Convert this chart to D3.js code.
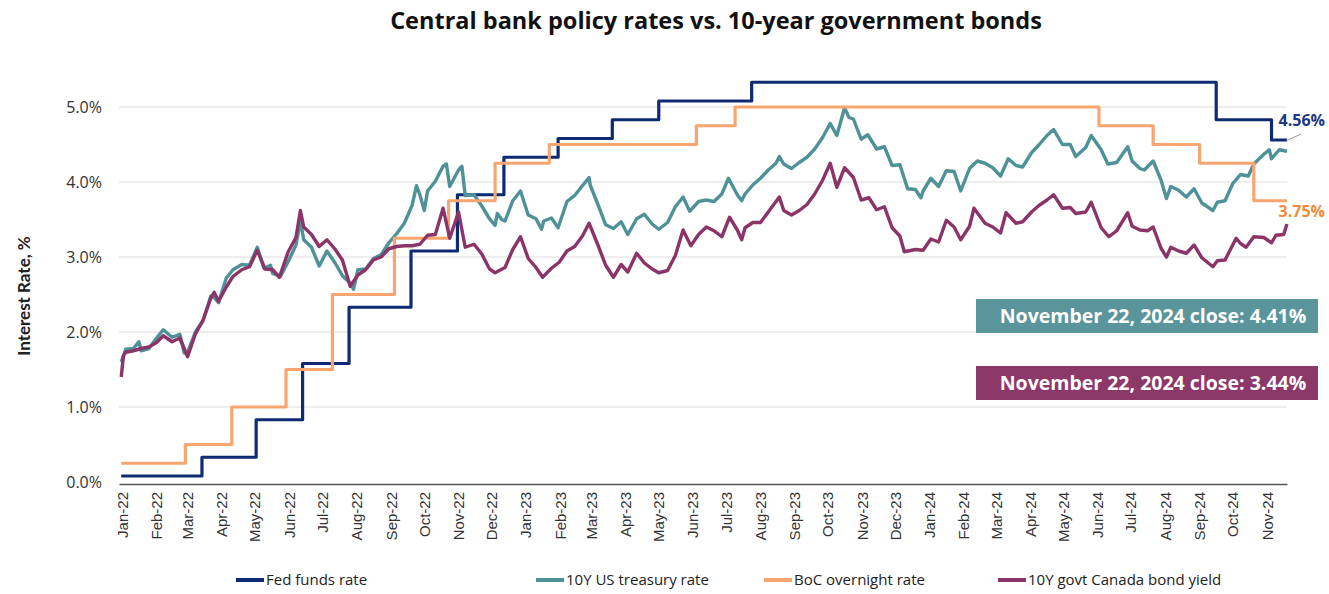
<!DOCTYPE html>
<html>
<head>
<meta charset="utf-8">
<script src="https://cdn.jsdelivr.net/npm/d3@7"></script>
<style>
  html, body { margin: 0; padding: 0; background: #fff; }
  svg { display: block; }
</style>
</head>
<body>
<svg id="chart" width="1329" height="594"></svg>
<script>
// Policy rates: [effective date, rate] at each change, last entry closes the line
const fedFunds = [
  ["2022-01-03", 0.08], ["2022-03-17", 0.33], ["2022-05-05", 0.83], ["2022-06-16", 1.58],
  ["2022-07-28", 2.33], ["2022-09-22", 3.08], ["2022-11-03", 3.83], ["2022-12-15", 4.33],
  ["2023-02-02", 4.58], ["2023-03-23", 4.83], ["2023-05-04", 5.08], ["2023-07-27", 5.33],
  ["2024-09-19", 4.83], ["2024-11-08", 4.56], ["2024-11-22", 4.56]
];
const bocOvernight = [
  ["2022-01-03", 0.25], ["2022-03-02", 0.50], ["2022-04-13", 1.00], ["2022-06-01", 1.50],
  ["2022-07-13", 2.50], ["2022-09-07", 3.25], ["2022-10-26", 3.75], ["2022-12-07", 4.25],
  ["2023-01-25", 4.50], ["2023-06-07", 4.75], ["2023-07-12", 5.00], ["2024-06-05", 4.75],
  ["2024-07-24", 4.50], ["2024-09-04", 4.25], ["2024-10-23", 3.75], ["2024-11-22", 3.75]
];

// 10-year yields, %
const us10y = [
  ["2022-01-03",1.60],["2022-01-07",1.77],["2022-01-14",1.78],["2022-01-19",1.87],["2022-01-21",1.75],
  ["2022-01-28",1.78],["2022-02-04",1.92],["2022-02-10",2.03],["2022-02-14",1.98],["2022-02-18",1.93],
  ["2022-02-25",1.97],["2022-03-01",1.72],["2022-03-04",1.73],["2022-03-11",2.00],["2022-03-18",2.15],
  ["2022-03-25",2.48],["2022-03-28",2.46],["2022-04-01",2.39],["2022-04-08",2.72],["2022-04-14",2.83],
  ["2022-04-22",2.90],["2022-04-29",2.89],["2022-05-06",3.13],["2022-05-12",2.85],["2022-05-18",2.89],
  ["2022-05-20",2.78],["2022-05-27",2.74],["2022-06-03",2.94],["2022-06-10",3.16],["2022-06-14",3.48],
  ["2022-06-17",3.23],["2022-06-24",3.13],["2022-07-01",2.88],["2022-07-08",3.08],["2022-07-15",2.93],
  ["2022-07-22",2.75],["2022-07-29",2.65],["2022-08-01",2.57],["2022-08-05",2.83],["2022-08-12",2.84],
  ["2022-08-19",2.98],["2022-08-26",3.03],["2022-09-02",3.19],["2022-09-09",3.31],["2022-09-16",3.45],
  ["2022-09-23",3.69],["2022-09-27",3.95],["2022-09-30",3.83],["2022-10-04",3.62],["2022-10-07",3.88],
  ["2022-10-14",4.01],["2022-10-21",4.21],["2022-10-24",4.24],["2022-10-27",3.94],["2022-11-04",4.16],
  ["2022-11-07",4.21],["2022-11-10",3.82],["2022-11-18",3.83],["2022-11-25",3.68],["2022-12-02",3.51],
  ["2022-12-07",3.42],["2022-12-09",3.58],["2022-12-13",3.50],["2022-12-16",3.48],["2022-12-23",3.75],
  ["2022-12-30",3.88],["2023-01-06",3.56],["2023-01-13",3.51],["2023-01-18",3.37],["2023-01-20",3.48],
  ["2023-01-27",3.52],["2023-02-02",3.39],["2023-02-10",3.74],["2023-02-17",3.82],["2023-02-24",3.95],
  ["2023-03-02",4.06],["2023-03-03",3.96],["2023-03-10",3.70],["2023-03-17",3.43],["2023-03-24",3.38],
  ["2023-03-31",3.47],["2023-04-06",3.30],["2023-04-14",3.51],["2023-04-21",3.57],["2023-04-28",3.44],
  ["2023-05-04",3.37],["2023-05-12",3.46],["2023-05-19",3.67],["2023-05-26",3.80],["2023-06-01",3.61],
  ["2023-06-09",3.74],["2023-06-16",3.76],["2023-06-23",3.74],["2023-06-30",3.84],["2023-07-06",4.05],
  ["2023-07-14",3.83],["2023-07-18",3.75],["2023-07-21",3.84],["2023-07-28",3.96],["2023-08-04",4.05],
  ["2023-08-11",4.16],["2023-08-18",4.25],["2023-08-21",4.34],["2023-08-25",4.24],["2023-09-01",4.18],
  ["2023-09-08",4.26],["2023-09-15",4.33],["2023-09-22",4.44],["2023-09-29",4.59],["2023-10-06",4.78],
  ["2023-10-12",4.62],["2023-10-19",4.99],["2023-10-23",4.86],["2023-10-27",4.84],["2023-11-03",4.57],
  ["2023-11-09",4.63],["2023-11-17",4.44],["2023-11-24",4.47],["2023-12-01",4.22],["2023-12-08",4.23],
  ["2023-12-15",3.91],["2023-12-22",3.90],["2023-12-27",3.79],["2023-12-29",3.88],["2024-01-05",4.05],
  ["2024-01-12",3.94],["2024-01-19",4.15],["2024-01-26",4.14],["2024-02-01",3.88],["2024-02-09",4.18],
  ["2024-02-16",4.28],["2024-02-23",4.25],["2024-03-01",4.19],["2024-03-08",4.08],["2024-03-15",4.31],
  ["2024-03-22",4.22],["2024-03-28",4.20],["2024-04-05",4.39],["2024-04-12",4.50],["2024-04-19",4.62],
  ["2024-04-25",4.70],["2024-05-03",4.50],["2024-05-10",4.50],["2024-05-15",4.34],["2024-05-24",4.46],
  ["2024-05-29",4.62],["2024-06-07",4.43],["2024-06-13",4.24],["2024-06-21",4.26],["2024-07-01",4.47],
  ["2024-07-05",4.28],["2024-07-12",4.18],["2024-07-16",4.16],["2024-07-24",4.28],["2024-07-31",4.03],
  ["2024-08-05",3.78],["2024-08-09",3.94],["2024-08-16",3.89],["2024-08-23",3.80],["2024-08-30",3.91],
  ["2024-09-06",3.72],["2024-09-16",3.62],["2024-09-20",3.73],["2024-09-27",3.75],["2024-10-04",3.98],
  ["2024-10-11",4.10],["2024-10-18",4.08],["2024-10-23",4.24],["2024-11-01",4.37],["2024-11-06",4.43],
  ["2024-11-08",4.31],["2024-11-15",4.43],["2024-11-22",4.41]
];
const ca10y = [
  ["2022-01-03",1.40],["2022-01-05",1.68],["2022-01-07",1.73],["2022-01-14",1.75],["2022-01-21",1.78],
  ["2022-01-28",1.80],["2022-02-04",1.86],["2022-02-10",1.95],["2022-02-18",1.87],["2022-02-25",1.92],
  ["2022-03-04",1.67],["2022-03-11",1.97],["2022-03-18",2.16],["2022-03-25",2.45],["2022-03-28",2.53],
  ["2022-04-01",2.41],["2022-04-08",2.60],["2022-04-14",2.74],["2022-04-22",2.83],["2022-04-29",2.87],
  ["2022-05-06",3.09],["2022-05-13",2.84],["2022-05-20",2.83],["2022-05-26",2.73],["2022-06-03",3.07],
  ["2022-06-10",3.26],["2022-06-14",3.62],["2022-06-17",3.40],["2022-06-24",3.30],["2022-07-01",3.14],
  ["2022-07-08",3.23],["2022-07-15",3.11],["2022-07-22",2.96],["2022-07-29",2.61],["2022-08-05",2.76],
  ["2022-08-12",2.83],["2022-08-19",2.96],["2022-08-26",3.00],["2022-09-02",3.11],["2022-09-09",3.14],
  ["2022-09-16",3.15],["2022-09-23",3.15],["2022-09-30",3.17],["2022-10-07",3.29],["2022-10-14",3.30],
  ["2022-10-21",3.65],["2022-10-27",3.25],["2022-11-04",3.60],["2022-11-10",3.13],["2022-11-18",3.17],
  ["2022-11-25",3.04],["2022-12-02",2.84],["2022-12-07",2.79],["2022-12-16",2.86],["2022-12-23",3.10],
  ["2022-12-30",3.27],["2023-01-06",2.98],["2023-01-13",2.86],["2023-01-19",2.73],["2023-01-27",2.85],
  ["2023-02-03",2.93],["2023-02-10",3.08],["2023-02-17",3.14],["2023-02-24",3.28],["2023-03-02",3.45],
  ["2023-03-10",3.16],["2023-03-17",2.89],["2023-03-24",2.73],["2023-03-31",2.90],["2023-04-06",2.80],
  ["2023-04-14",3.05],["2023-04-21",2.92],["2023-04-28",2.84],["2023-05-04",2.79],["2023-05-12",2.82],
  ["2023-05-19",3.02],["2023-05-26",3.36],["2023-06-02",3.15],["2023-06-09",3.30],["2023-06-16",3.40],
  ["2023-06-23",3.35],["2023-06-30",3.27],["2023-07-07",3.53],["2023-07-14",3.36],["2023-07-18",3.23],
  ["2023-07-21",3.39],["2023-07-28",3.46],["2023-08-04",3.46],["2023-08-11",3.60],["2023-08-21",3.80],
  ["2023-08-25",3.62],["2023-09-01",3.56],["2023-09-08",3.62],["2023-09-15",3.70],["2023-09-22",3.84],
  ["2023-09-29",4.02],["2023-10-06",4.25],["2023-10-12",3.93],["2023-10-19",4.19],["2023-10-27",4.06],
  ["2023-11-03",3.76],["2023-11-10",3.79],["2023-11-17",3.63],["2023-11-24",3.67],["2023-12-01",3.39],
  ["2023-12-08",3.28],["2023-12-12",3.07],["2023-12-22",3.10],["2023-12-29",3.09],["2024-01-05",3.24],
  ["2024-01-12",3.20],["2024-01-19",3.49],["2024-01-26",3.40],["2024-02-01",3.23],["2024-02-09",3.41],
  ["2024-02-13",3.65],["2024-02-23",3.45],["2024-03-01",3.40],["2024-03-08",3.32],["2024-03-13",3.59],
  ["2024-03-22",3.45],["2024-03-28",3.47],["2024-04-05",3.60],["2024-04-12",3.69],["2024-04-19",3.76],
  ["2024-04-25",3.83],["2024-05-03",3.65],["2024-05-10",3.66],["2024-05-15",3.58],["2024-05-24",3.60],
  ["2024-05-29",3.73],["2024-06-07",3.39],["2024-06-14",3.27],["2024-06-21",3.35],["2024-07-01",3.59],
  ["2024-07-05",3.41],["2024-07-12",3.36],["2024-07-19",3.35],["2024-07-24",3.40],["2024-07-31",3.12],
  ["2024-08-05",3.00],["2024-08-09",3.13],["2024-08-16",3.08],["2024-08-23",3.05],["2024-08-30",3.16],
  ["2024-09-06",2.99],["2024-09-16",2.87],["2024-09-20",2.95],["2024-09-27",2.96],["2024-10-07",3.25],
  ["2024-10-11",3.18],["2024-10-16",3.13],["2024-10-23",3.27],["2024-11-01",3.26],["2024-11-08",3.19],
  ["2024-11-12",3.29],["2024-11-19",3.30],["2024-11-22",3.44]
];

const yTicks = [0, 1, 2, 3, 4, 5];
const seriesNames = ["Fed funds rate", "10Y US treasury rate", "BoC overnight rate", "10Y govt Canada bond yield"];
const closeLabels = ["November 22, 2024 close: 4.41%", "November 22, 2024 close: 3.44%"];
const endLabels = ["4.56%", "3.75%"];

const colors = {
  fed: "#0e2a72",
  us: "#4f9198",
  boc: "#f8a56f",
  ca: "#8b3467"
};

const parse = d3.timeParse("%Y-%m-%d");
const toPts = arr => arr.map(([d, v]) => ({ date: parse(d), value: v }));

const svg = d3.select("#chart");
const plotLeft = 119, plotRight = 1287, plotTop = 107, plotBottom = 482;

const x = d3.scaleTime()
  .domain([parse("2022-01-01"), parse("2024-11-22")])
  .range([plotLeft, plotRight]);
const y = d3.scaleLinear().domain([0, 5]).range([plotBottom, plotTop]);

const sans = "'Open Sans', 'Noto Sans', sans-serif";
const lato = "'Lato', 'Open Sans', sans-serif";

// Title
svg.append("text")
  .attr("x", 716).attr("y", 29)
  .attr("text-anchor", "middle")
  .attr("font-family", sans)
  .attr("font-weight", 700)
  .attr("font-size", 23.5)
  .attr("fill", "#111")
  .text("Central bank policy rates vs. 10-year government bonds");

// Gridlines
svg.append("g")
  .selectAll("line")
  .data(yTicks.filter(t => t > 0))
  .join("line")
  .attr("x1", plotLeft).attr("x2", plotRight)
  .attr("y1", d => y(d)).attr("y2", d => y(d))
  .attr("stroke", "#dcdcdc").attr("stroke-width", 1);

// Y axis labels
const yAxis = svg.append("g")
  .attr("transform", `translate(${plotLeft},0)`)
  .call(d3.axisLeft(y).tickValues(yTicks).tickFormat(d => d3.format(".1f")(d) + "%").tickSize(0).tickPadding(17));
yAxis.select(".domain").remove();
yAxis.selectAll("text")
  .attr("font-family", sans)
  .attr("font-size", 16)
  .attr("fill", "#333");

// Y axis title
svg.append("text")
  .attr("transform", "translate(30,296) rotate(-90)")
  .attr("text-anchor", "middle")
  .attr("font-family", lato)
  .attr("font-weight", 700)
  .attr("font-size", 17)
  .attr("fill", "#222")
  .text("Interest Rate, %");

// X axis
const months = d3.timeMonth.range(parse("2022-01-01"), parse("2024-11-02"));
const xAxis = svg.append("g")
  .attr("transform", `translate(0,${plotBottom + 2})`)
  .call(d3.axisBottom(x).tickValues(months).tickFormat(d3.timeFormat("%b-%y")).tickSize(0).tickPadding(0));
xAxis.select(".domain").attr("stroke", "#555").attr("stroke-width", 1.6);
xAxis.selectAll("text")
  .attr("font-family", "'Liberation Sans', Arial, sans-serif")
  .attr("font-size", 15)
  .attr("fill", "#333")
  .attr("text-anchor", "end")
  .attr("transform", "rotate(-90)")
  .attr("x", -8)
  .attr("y", 0)
  .attr("dy", "0.55em");

// Lines
const stepLine = d3.line().x(d => x(d.date)).y(d => y(d.value)).curve(d3.curveStepAfter);
const yieldLine = d3.line().x(d => x(d.date)).y(d => y(d.value)).curve(d3.curveLinear);

const lines = svg.append("g").attr("fill", "none").attr("stroke-linejoin", "round");
lines.append("path").attr("d", stepLine(toPts(fedFunds))).attr("stroke", colors.fed).attr("stroke-width", 3.2);
lines.append("path").attr("d", yieldLine(toPts(us10y))).attr("stroke", colors.us).attr("stroke-width", 3.4);
lines.append("path").attr("d", stepLine(toPts(bocOvernight))).attr("stroke", colors.boc).attr("stroke-width", 3.2);
lines.append("path").attr("d", yieldLine(toPts(ca10y))).attr("stroke", colors.ca).attr("stroke-width", 3.4);

// End-of-series labels
const fedLast = toPts(fedFunds).slice(-1)[0];
const bocLast = toPts(bocOvernight).slice(-1)[0];
svg.append("line")
  .attr("x1", x(fedLast.date) - 1).attr("y1", y(fedLast.value) + 1)
  .attr("x2", x(fedLast.date) + 14).attr("y2", y(fedLast.value) - 6)
  .attr("stroke", "#999").attr("stroke-width", 1);
svg.append("text")
  .attr("x", 1325).attr("y", y(fedLast.value) - 14)
  .attr("text-anchor", "end")
  .attr("font-family", sans).attr("font-weight", 700).attr("font-size", 16)
  .attr("fill", "#1a3886")
  .text(endLabels[0]);
svg.append("text")
  .attr("x", 1325).attr("y", y(bocLast.value) + 16)
  .attr("text-anchor", "end")
  .attr("font-family", sans).attr("font-weight", 700).attr("font-size", 16)
  .attr("fill", "#f28a3b")
  .text(endLabels[1]);

// Close-value callout boxes
const boxes = [
  { label: closeLabels[0], fill: "#5b959c", y0: 299 },
  { label: closeLabels[1], fill: "#8c3868", y0: 366 }
];
const bx = svg.append("g");
boxes.forEach(b => {
  bx.append("rect")
    .attr("x", 976).attr("y", b.y0).attr("width", 342).attr("height", 34)
    .attr("fill", b.fill);
  bx.append("text")
    .attr("x", 1153).attr("y", b.y0 + 24)
    .attr("text-anchor", "middle")
    .attr("font-family", sans).attr("font-weight", 700).attr("font-size", 19.5)
    .attr("fill", "#fff")
    .text(b.label);
});

// Legend
const legendItems = [
  { name: seriesNames[0], color: colors.fed, x: 236 },
  { name: seriesNames[1], color: colors.us, x: 536 },
  { name: seriesNames[2], color: colors.boc, x: 764 },
  { name: seriesNames[3], color: colors.ca, x: 998 }
];
const lg = svg.append("g").attr("transform", "translate(0,580)");
legendItems.forEach(it => {
  lg.append("line")
    .attr("x1", it.x).attr("x2", it.x + 28)
    .attr("stroke", it.color).attr("stroke-width", 4);
  lg.append("text")
    .attr("x", it.x + 30).attr("y", 5)
    .attr("font-family", sans).attr("font-size", 15)
    .attr("fill", "#222")
    .text(it.name);
});
</script>
</body>
</html>
